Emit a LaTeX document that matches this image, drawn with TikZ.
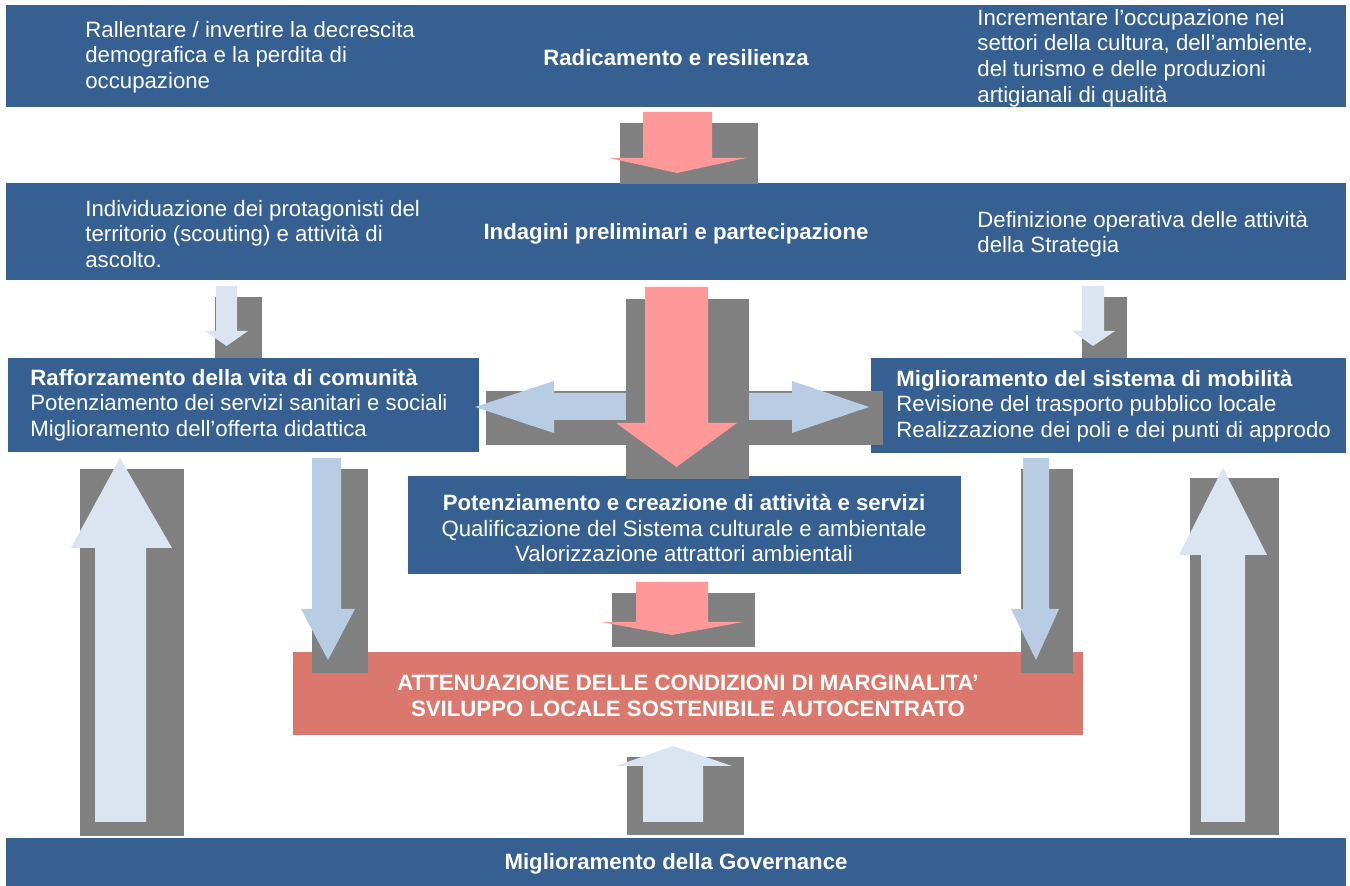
\documentclass[tikz,border=0pt]{standalone}
\usepackage{fontspec}
\setmainfont{Liberation Sans}
\definecolor{bandblue}{RGB}{54,96,146}
\definecolor{shadowgray}{RGB}{128,128,128}
\definecolor{pinkarrow}{RGB}{255,153,153}
\definecolor{lightarrow}{RGB}{219,229,241}
\definecolor{midarrow}{RGB}{184,204,228}
\definecolor{redbox}{RGB}{218,120,109}
\tikzset{
  band/.style={fill=bandblue},
  shadowbox/.style={fill=shadowgray},
  pinkar/.style={fill=pinkarrow},
  lightar/.style={fill=lightarrow},
  midar/.style={fill=midarrow},
  txt/.style={text=white, inner sep=0pt, font=\fontsize{11.1pt}{12.85pt}\selectfont},
  btxt/.style={txt, font=\fontsize{11.1pt}{12.85pt}\selectfont\bfseries},
}
\begin{document}
\begin{tikzpicture}[x=0.5pt,y=-0.5pt]
\useasboundingbox (0,0) rectangle (1350,886);
\fill[white] (0,0) rectangle (1350,886);
% bands and boxes
\fill[band] (6,5) rectangle (1346,107);
\fill[band] (6,183) rectangle (1346,280);
\fill[band] (8,358) rectangle (479,452);
\fill[band] (871,358) rectangle (1346,453);
\fill[band] (408,476) rectangle (961,574);
\fill[redbox] (293,652) rectangle (1083,735);
\fill[band] (6,838) rectangle (1346,886);
% top pink arrow
\fill[shadowbox] (620,123) rectangle (758,184);
\fill[pinkar] (643,112) -- (712,112) -- (712,158) -- (746,158) -- (677,173) -- (609,158) -- (643,158) -- cycle;
% small arrows below second band
\fill[shadowbox] (215,297) rectangle (262,358);
\fill[lightar] (216,286) -- (237,286) -- (237,331) -- (248,331) -- (226.5,346) -- (205,331) -- (216,331) -- cycle;
\fill[shadowbox] (1082,297) rectangle (1127,358);
\fill[lightar] (1082,286) -- (1104,286) -- (1104,331) -- (1115,331) -- (1093,346) -- (1072,331) -- (1082,331) -- cycle;
% horizontal double arrow
\fill[shadowbox] (486,391) rectangle (883,445);
\fill[midar] (475,407) -- (554,381) -- (554,393) -- (792,393) -- (792,381) -- (869,407) -- (792,433) -- (792,420) -- (554,420) -- (554,433) -- cycle;
% central pink arrow
\fill[shadowbox] (626,299) rectangle (749,479);
\fill[pinkar] (645,287) -- (708,287) -- (708,423) -- (737,423) -- (676.5,467) -- (616,423) -- (645,423) -- cycle;
% pink arrow below central box
\fill[shadowbox] (612,593) rectangle (755,647);
\fill[pinkar] (636,582) -- (708,582) -- (708,622) -- (743,622) -- (672,635) -- (601,622) -- (636,622) -- cycle;
% long down arrows
\fill[shadowbox] (312,469) rectangle (368,673);
\fill[midar] (312,458) -- (341,458) -- (341,609) -- (355,609) -- (328,660) -- (301,609) -- (312,609) -- cycle;
\fill[shadowbox] (1021,469) rectangle (1073,673);
\fill[midar] (1023,458) -- (1049,458) -- (1049,609) -- (1059,609) -- (1036,660) -- (1011,609) -- (1023,609) -- cycle;
% big up arrows
\fill[shadowbox] (80,469) rectangle (184,836);
\fill[lightar] (120,458) -- (172,548) -- (146,548) -- (146,822) -- (95,822) -- (95,548) -- (71,548) -- cycle;
\fill[shadowbox] (1190,478) rectangle (1279,835);
\fill[lightar] (1223,468) -- (1267,555) -- (1245,555) -- (1245,822) -- (1201,822) -- (1201,555) -- (1179,555) -- cycle;
% bottom up arrow
\fill[shadowbox] (627,757) rectangle (744,835);
\fill[lightar] (673,746) -- (732,766) -- (703,766) -- (703,822) -- (643,822) -- (643,766) -- (616,766) -- cycle;
% texts
\node[btxt] (radic) at (676,58) {Radicamento e resilienza};
\node[txt, anchor=west, align=left] (rall) at (85,57) {Rallentare / invertire la decrescita\\demografica e la perdita di\\occupazione};
\node[txt, anchor=west, align=left] (incr) at (977,58) {Incrementare l’occupazione nei\\settori della cultura, dell’ambiente,\\del turismo e delle produzioni\\artigianali di qualità};
\node[btxt] (indag) at (676,234) {Indagini preliminari e partecipazione};
\node[txt, anchor=west, align=left] (indiv) at (85,234) {Individuazione dei protagonisti del\\territorio (scouting) e attività di\\ascolto.};
\node[txt, anchor=west, align=left] (defin) at (977,234) {Definizione operativa delle attività\\della Strategia};
\node[txt, anchor=west, align=left] (raff) at (30,405) {\textbf{Rafforzamento della vita di comunità}\\Potenziamento dei servizi sanitari e sociali\\Miglioramento dell’offerta didattica};
\node[txt, anchor=west, align=left] (mob) at (896,406) {\textbf{Miglioramento del sistema di mobilità}\\Revisione del trasporto pubblico locale\\Realizzazione dei poli e dei punti di approdo};
\node[txt, align=center] (pot) at (684,528) {\textbf{Potenziamento e creazione di attività e servizi}\\Qualificazione del Sistema culturale e ambientale\\Valorizzazione attrattori ambientali};
\node[btxt, align=center] (att) at (688,696) {ATTENUAZIONE DELLE CONDIZIONI DI MARGINALITA’\\SVILUPPO LOCALE SOSTENIBILE AUTOCENTRATO};
\node[btxt] (gov) at (676,864) {Miglioramento della Governance};
\end{tikzpicture}
\end{document}
